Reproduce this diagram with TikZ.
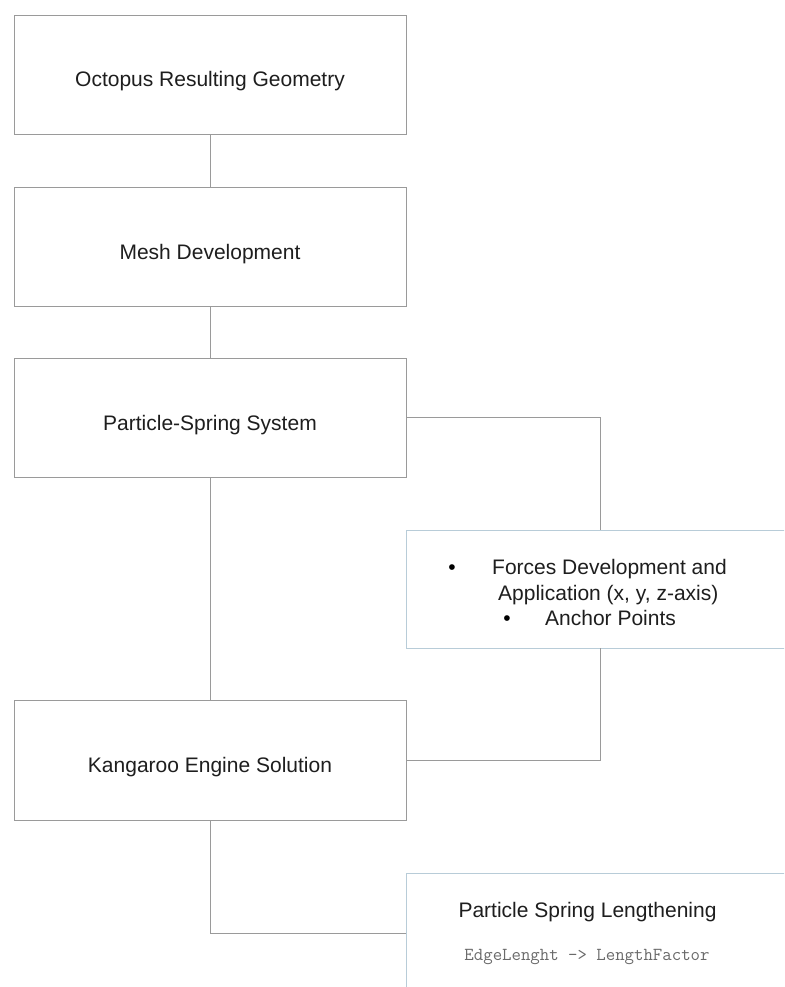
\documentclass[tikz,border=0pt]{standalone}
\usepackage{fontspec}
\setmainfont{Liberation Sans}
\usepackage{tikz}
\definecolor{linegray}{HTML}{9A9A9A}
\definecolor{boxblue}{HTML}{B8CCD8}
\definecolor{textdark}{HTML}{1E1E1E}
\definecolor{codegray}{HTML}{6A6A6A}

\begin{document}
\begin{tikzpicture}[x=1pt,y=-1pt,
    stagebox/.style={draw=linegray, line width=0.9pt, minimum width=392pt, minimum height=119pt,
      inner sep=0pt, text height=25pt, text depth=0pt, font=\fontsize{21}{25}\selectfont, text=textdark},
    notebox/.style={draw=boxblue, line width=0.9pt, minimum width=388pt, inner sep=0pt},
    notetext/.style={inner sep=0pt, font=\fontsize{21}{25}\selectfont, text=textdark},
    link/.style={draw=linegray, line width=0.9pt}]
    % Fix the page and cut the boxes at the right edge
    \clip (0,0) rectangle (784,987);
    \fill[white] (0,0) rectangle (784,987);
    % Draw the main stages
    \node[stagebox] (geometry) at (210,74.5) {Octopus Resulting Geometry};
    \node[stagebox] (mesh) at (210,246.5) {Mesh Development};
    \node[stagebox] (system) at (210,417.5) {Particle-Spring System};
    \node[stagebox, minimum height=120pt] (engine) at (210,760) {Kangaroo Engine Solution};
    % Draw the side notes
    \node[notebox, minimum height=118pt] (forces) at (600,589) {};
    \node[notetext, anchor=base, text=black] (bulletA) at (452,574) {\textbullet};
    \node[notetext, anchor=base west] (forcesA) at (492,574) {Forces Development and};
    \node[notetext, anchor=base west] (forcesB) at (498,600) {Application (x, y, z-axis)};
    \node[notetext, anchor=base, text=black] (bulletB) at (507,625) {\textbullet};
    \node[notetext, anchor=base west] (anchors) at (545,625) {Anchor Points};
    \node[notebox, minimum height=120pt] (lengthen) at (600,933) {};
    \node[notetext, anchor=base] (lengthenA) at (587.5,917) {Particle Spring Lengthening};
    \node[notetext, anchor=base, font=\fontsize{18.3}{20}\ttfamily, text=codegray] (lengthenB) at (587,960)
    {EdgeLenght -> LengthFactor};
    % Connect the stages
    \draw[link] (geometry) -- (mesh);
    \draw[link] (mesh) -- (system);
    \draw[link] (system) -- (engine);
    \draw[link] (system.east) -| (forces.north);
    \draw[link] (forces.south) |- (engine.east);
    \draw[link] (engine.south) |- (lengthen.west);
\end{tikzpicture}
\end{document}
